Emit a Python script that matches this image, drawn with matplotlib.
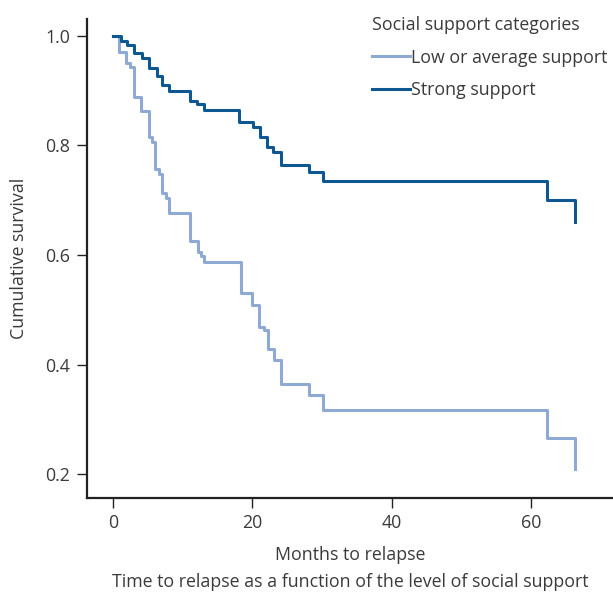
import matplotlib
matplotlib.use("Agg")
import matplotlib.pyplot as plt

# Kaplan-Meier steps (months, cumulative survival)
low_t = [0, 0.9, 1.86, 2.5, 3.0, 3.97, 5.16, 5.6, 6.07, 6.6, 7.1, 7.6, 8.1,
         11.04, 12.2, 12.6, 13.1, 18.3, 20.0, 21.0, 21.6, 22.3, 23.1, 24.1,
         28.1, 30.06, 62.3, 66.3]
low_s = [1.0, 0.970, 0.950, 0.944, 0.889, 0.863, 0.816, 0.806, 0.757, 0.748,
         0.713, 0.705, 0.676, 0.626, 0.606, 0.598, 0.588, 0.530, 0.509, 0.469,
         0.464, 0.429, 0.408, 0.364, 0.344, 0.318, 0.266, 0.209]

strong_t = [0, 1.15, 1.96, 3.06, 4.1, 5.16, 6.26, 7.1, 8.1, 11.04, 12.0, 13.0,
            18.0, 20.07, 21.1, 22.1, 23.0, 24.1, 28.1, 30.06, 62.2, 66.2]
strong_s = [1.0, 0.991, 0.984, 0.968, 0.959, 0.941, 0.926, 0.910, 0.900, 0.881,
            0.875, 0.865, 0.843, 0.833, 0.816, 0.798, 0.788, 0.764, 0.752,
            0.736, 0.700, 0.661]

x_ticks = [0, 20, 40, 60]
y_ticks = [0.2, 0.4, 0.6, 0.8, 1.0]

txt = "#3a3a3a"
fs = 12.8
plt.rcParams["font.family"] = ["Open Sans", "DejaVu Sans"]
plt.rcParams["font.size"] = fs

fig = plt.figure(figsize=(6.13, 5.92), dpi=100)
ax = fig.add_axes([0.1414, 0.1593, 0.8586, 0.8087])

ax.plot(low_t, low_s, drawstyle="steps-post", color="#8eaad4", lw=2.2,
        label="Low or average support")
ax.plot(strong_t, strong_s, drawstyle="steps-post", color="#0d5893", lw=2.2,
        label="Strong support")

ax.set_xlim(-3.77, 71.7)
ax.set_ylim(0.157, 1.031)
ax.set_xticks(x_ticks)
ax.set_yticks(y_ticks)
ax.set_yticklabels([f"{v:.1f}" for v in y_ticks])

for side in ["top", "right"]:
    ax.spines[side].set_visible(False)
for side in ["left", "bottom"]:
    ax.spines[side].set_linewidth(1.6)
    ax.spines[side].set_color("#222222")
ax.tick_params(length=7, width=1.0, color="#222222", labelcolor=txt,
               labelsize=fs, pad=5)

ax.set_xlabel("Months to relapse", color=txt, fontsize=fs, labelpad=10)
ax.set_ylabel("Cumulative survival", color=txt, fontsize=fs, labelpad=12)

fig.text(0.572, 0.001, "Time to relapse as a function of the level of social support",
         ha="center", va="bottom", color=txt, fontsize=fs)

leg = ax.legend(title="Social support categories", loc="upper left",
                bbox_to_anchor=(0.542, 1.006), frameon=False,
                handlelength=2.15, handletextpad=0.05, labelspacing=0.82,
                borderaxespad=0, borderpad=0, fontsize=fs, title_fontsize=fs,
                alignment="left")
for t in leg.get_texts():
    t.set_color(txt)
leg.get_title().set_color(txt)

fig.savefig("out.png", dpi=100)
